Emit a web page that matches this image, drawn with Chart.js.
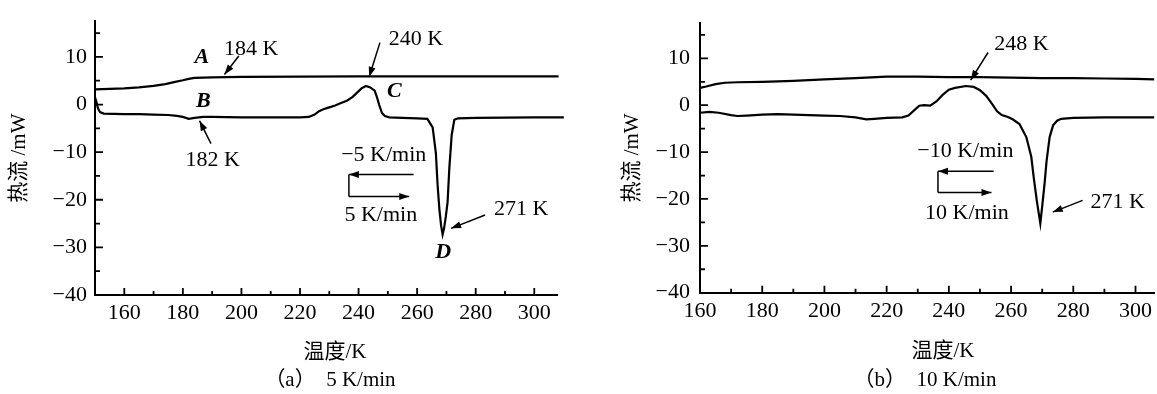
<!DOCTYPE html>
<html>
<head>
<meta charset="utf-8">
<script src="https://cdn.jsdelivr.net/npm/chart.js@4/dist/chart.umd.min.js"></script>
<style>
  body { margin: 0; background: #fff; }
  #wrap { position: relative; width: 1157px; height: 394px; overflow: hidden; }
  canvas { position: absolute; top: 0; }
  .lbl { position: absolute; transform: translate(-50%, -50%); font-family: "Liberation Serif", "Noto Sans CJK SC", serif; font-size: 21px; line-height: 1; color: #000; white-space: nowrap; }
</style>
</head>
<body>
<div id="wrap">
  <canvas id="chartA" width="580" height="394" style="left:0"></canvas>
  <canvas id="chartB" width="557" height="394" style="left:600px"></canvas>
  <div class="lbl" style="left:335px;top:351px">温度/K</div>
  <div class="lbl" style="left:943px;top:350px">温度/K</div>
  <div class="lbl" style="left:330px;top:379px">（a）&nbsp; 5 K/min</div>
  <div class="lbl" style="left:925px;top:379px">（b）&nbsp; 10 K/min</div>
</div>
<script>
// (a) 5 K/min : upper curve (cooling) and lower curve (heating)
const tempA_upper = [150, 155, 160, 165, 170, 174, 177, 180, 182, 184, 190, 200, 220, 240, 260, 280, 300, 308.3, 309.2, 309.8, 310.0, 310.1];
const flowA_upper = [3.2, 3.3, 3.4, 3.6, 3.9, 4.3, 4.7, 5.1, 5.4, 5.6, 5.7, 5.8, 5.85, 5.9, 5.9, 5.9, 5.9, 5.9, 5.4, 3.4, 0, -2.7];

const tempA_lower = [150, 150.5, 151, 151.7, 153, 160, 165, 170, 175, 178, 180, 182, 184, 187, 190, 200, 210, 220, 223, 225, 226.5, 228, 230, 232, 234, 236, 238, 239.5, 241, 242.5, 244, 245.5, 246.3, 247, 248, 249, 250.5, 255, 260, 263.5, 264.5, 265.3, 266.4, 267.0, 267.6, 268.2, 268.7, 269.2, 269.8, 270.4, 271.0, 271.8, 272.7, 274, 280, 300, 310.1];
const flowA_lower = [1.5, 0.5, -0.8, -1.6, -1.9, -2.0, -2.0, -2.1, -2.2, -2.4, -2.6, -3.0, -2.8, -2.6, -2.6, -2.7, -2.7, -2.7, -2.6, -2.1, -1.4, -1.0, -0.6, -0.2, 0.3, 0.8, 1.6, 2.5, 3.4, 3.9, 3.6, 2.9, 1.5, 0, -1.8, -2.4, -2.7, -2.8, -2.9, -3.0, -4.0, -4.8, -10.2, -17, -22, -25.5, -27.3, -26, -23.5, -20.5, -13.3, -6.4, -3.2, -2.9, -2.8, -2.7, -2.7];

// (b) 10 K/min
const tempB_upper = [160, 162, 165, 168, 172, 180, 190, 200, 210, 220, 230, 240, 250, 260, 270, 280, 290, 300, 306];
const flowB_upper = [3.7, 4.0, 4.5, 4.8, 4.9, 5.0, 5.2, 5.5, 5.8, 6.1, 6.1, 6.0, 6.0, 5.9, 5.8, 5.8, 5.7, 5.6, 5.5];

const tempB_lower = [160, 163, 166, 170, 172, 175, 180, 185, 190, 195, 200, 205, 210, 213.5, 216, 220, 225, 227, 229, 230.5, 232, 234, 236, 238, 240, 242, 245.5, 248, 250, 252, 254, 255.5, 257, 259, 260.5, 262.7, 264.9, 266.5, 267.3, 268.3, 269.4, 270.1, 270.8, 271.4, 272.4, 273.5, 274.8, 276.1, 280, 290, 306];
const flowB_lower = [-1.6, -1.4, -1.6, -2.1, -2.3, -2.2, -2.0, -1.9, -2.0, -2.1, -2.2, -2.3, -2.6, -3.0, -2.9, -2.7, -2.6, -2.2, -1.0, -0.1, 0, -0.1, 0.8, 2.2, 3.3, 3.7, 4.1, 3.9, 3.2, 2.0, 0.2, -1.3, -2.1, -2.5, -3.0, -4.0, -6.8, -11, -15.5, -20.5, -25.2, -21, -16.5, -12, -6.8, -4.3, -3.3, -2.9, -2.7, -2.6, -2.6];

const yTicksMajor = 10, yTicksMinor = 5;
const xTicksMajor = 20, xTicksMinor = 10;

const FONT = '"Liberation Serif", "Noto Sans CJK SC", serif';

const pts = (xs, ys) => xs.map((x, i) => ({ x, y: ys[i] }));

// inward tick marks, long for labelled values, short for the rest
const tickMarks = {
  id: 'tickMarks',
  afterDraw(chart) {
    const { ctx, chartArea: a, scales: { x, y } } = chart;
    ctx.save();
    ctx.strokeStyle = '#000';
    ctx.lineWidth = 1.8;
    ctx.beginPath();
    y.ticks.forEach(t => {
      const py = y.getPixelForValue(t.value);
      if (Math.abs(py - a.bottom) < 2) return;
      const len = t.value % yTicksMajor === 0 ? 8 : 5;
      ctx.moveTo(a.left, py);
      ctx.lineTo(a.left + len, py);
    });
    x.ticks.forEach(t => {
      const px = x.getPixelForValue(t.value);
      if (Math.abs(px - a.left) < 2) return;
      const len = t.value % xTicksMajor === 0 ? 7 : 4;
      ctx.moveTo(px, a.bottom);
      ctx.lineTo(px, a.bottom - len);
    });
    ctx.stroke();
    ctx.restore();
  }
};

function drawArrow(ctx, x1, y1, x2, y2, head) {
  ctx.beginPath();
  ctx.moveTo(x1, y1);
  ctx.lineTo(x2, y2);
  ctx.stroke();
  if (!head) return;
  const ang = Math.atan2(y2 - y1, x2 - x1), L = 10, W = 3.5;
  const c = Math.cos(ang), s = Math.sin(ang);
  ctx.beginPath();
  ctx.moveTo(x2, y2);
  ctx.lineTo(x2 - L * c + W * s, y2 - L * s - W * c);
  ctx.lineTo(x2 - L * c - W * s, y2 - L * s + W * c);
  ctx.closePath();
  ctx.fill();
}

// text labels and arrows placed in data units
const notes = {
  id: 'notes',
  afterDatasetsDraw(chart, args, opts) {
    const { ctx, scales: { x, y } } = chart;
    ctx.save();
    ctx.fillStyle = '#000';
    ctx.strokeStyle = '#000';
    ctx.lineWidth = 1.5;
    ctx.textAlign = 'center';
    ctx.textBaseline = 'middle';
    (opts.texts || []).forEach(n => {
      ctx.font = (n.it ? 'italic bold ' : '') + '22px ' + FONT;
      ctx.fillText(n.t, x.getPixelForValue(n.x), y.getPixelForValue(n.y));
    });
    (opts.arrows || []).forEach(a => {
      drawArrow(ctx, x.getPixelForValue(a[0]), y.getPixelForValue(a[1]),
        x.getPixelForValue(a[2]), y.getPixelForValue(a[3]), a[4]);
    });
    ctx.restore();
  }
};

const notesA = {
  texts: [
    { x: 203.3, y: 11.7, t: '184 K' },
    { x: 186.5, y: 9.9, t: 'A', it: true },
    { x: 187.0, y: 0.7, t: 'B', it: true },
    { x: 190.2, y: -11.6, t: '182 K' },
    { x: 259.6, y: 13.7, t: '240 K' },
    { x: 252.2, y: 2.7, t: 'C', it: true },
    { x: 248.6, y: -10.6, t: '\u22125 K/min' },
    { x: 247.6, y: -23.2, t: '5 K/min' },
    { x: 295.5, y: -21.9, t: '271 K' },
    { x: 268.9, y: -31.1, t: 'D', it: true }
  ],
  arrows: [
    [199.1, 10.2, 194.2, 6.3, 1],
    [189.6, -8.2, 185.7, -3.4, 1],
    [247.3, 13.0, 243.6, 5.8, 1],
    [258.8, -14.7, 236.7, -14.7, 1],
    [236.7, -14.7, 236.7, -19.3, 0],
    [236.7, -19.3, 257.3, -19.3, 1],
    [283.2, -23.2, 271.6, -26.0, 1]
  ]
};

const notesB = {
  texts: [
    { x: 263.3, y: 13.0, t: '248 K' },
    { x: 245.3, y: -9.9, t: '\u221210 K/min' },
    { x: 245.8, y: -23.1, t: '10 K/min' },
    { x: 294.3, y: -20.7, t: '271 K' }
  ],
  arrows: [
    [252.6, 11.25, 247.0, 5.35, 1],
    [254.4, -14.1, 236.5, -14.1, 1],
    [236.5, -14.1, 236.5, -18.6, 0],
    [236.5, -18.6, 253.7, -18.6, 1],
    [283.0, -20.3, 273.4, -22.8, 1]
  ]
};

function makeChart(id, sets, xr, box, note) {
  const line = data => ({ data, borderColor: '#000', borderWidth: 2.2, pointRadius: 0, tension: 0, clip: false, fill: false });
  return new Chart(document.getElementById(id), {
    type: 'line',
    data: { datasets: sets.map(line) },
    options: {
      responsive: false,
      animation: false,
      devicePixelRatio: 1,
      layout: { padding: box.pad },
      plugins: { legend: { display: false }, tooltip: { enabled: false }, notes: note },
      scales: {
        x: {
          type: 'linear', min: xr[0], max: xr[1],
          ticks: {
            stepSize: xTicksMinor, includeBounds: false, autoSkip: false, maxRotation: 0, padding: 5,
            color: '#000', font: { family: FONT, size: 22 },
            callback: v => (v % xTicksMajor === 0 ? String(v) : '')
          },
          grid: { display: false, drawTicks: false },
          border: { display: true, color: '#000', width: 2 },
          afterFit: s => { s.height = box.xh; }
        },
        y: {
          type: 'linear', min: -40, max: 17.5,
          ticks: {
            stepSize: yTicksMinor, includeBounds: false, autoSkip: false, padding: box.yp,
            color: '#000', font: { family: FONT, size: 22 },
            callback: v => (v % yTicksMajor === 0 ? String(v).replace('-', '\u2212') : '')
          },
          grid: { display: false, drawTicks: false },
          border: { display: true, color: '#000', width: 2 },
          title: { display: true, text: '热流 /mW', color: '#000', font: { family: FONT, size: 21 }, padding: { top: box.tp, bottom: 0 } },
          afterFit: s => { s.width = box.yw; }
        }
      }
    },
    plugins: [tickMarks, notes]
  });
}

makeChart('chartA',
  [pts(tempA_upper, flowA_upper), pts(tempA_lower, flowA_lower)],
  [150, 308],
  { pad: { left: 0, top: 14.7, right: 22.3, bottom: 0 }, xh: 99, yw: 95, yp: 8, tp: 7 },
  notesA);

makeChart('chartB',
  [pts(tempB_upper, flowB_upper), pts(tempB_lower, flowB_lower)],
  [160, 306],
  { pad: { left: 0, top: 16.7, right: 0, bottom: 0 }, xh: 101.3, yw: 100, yp: 10, tp: 20 },
  notesB);
</script>
</body>
</html>
